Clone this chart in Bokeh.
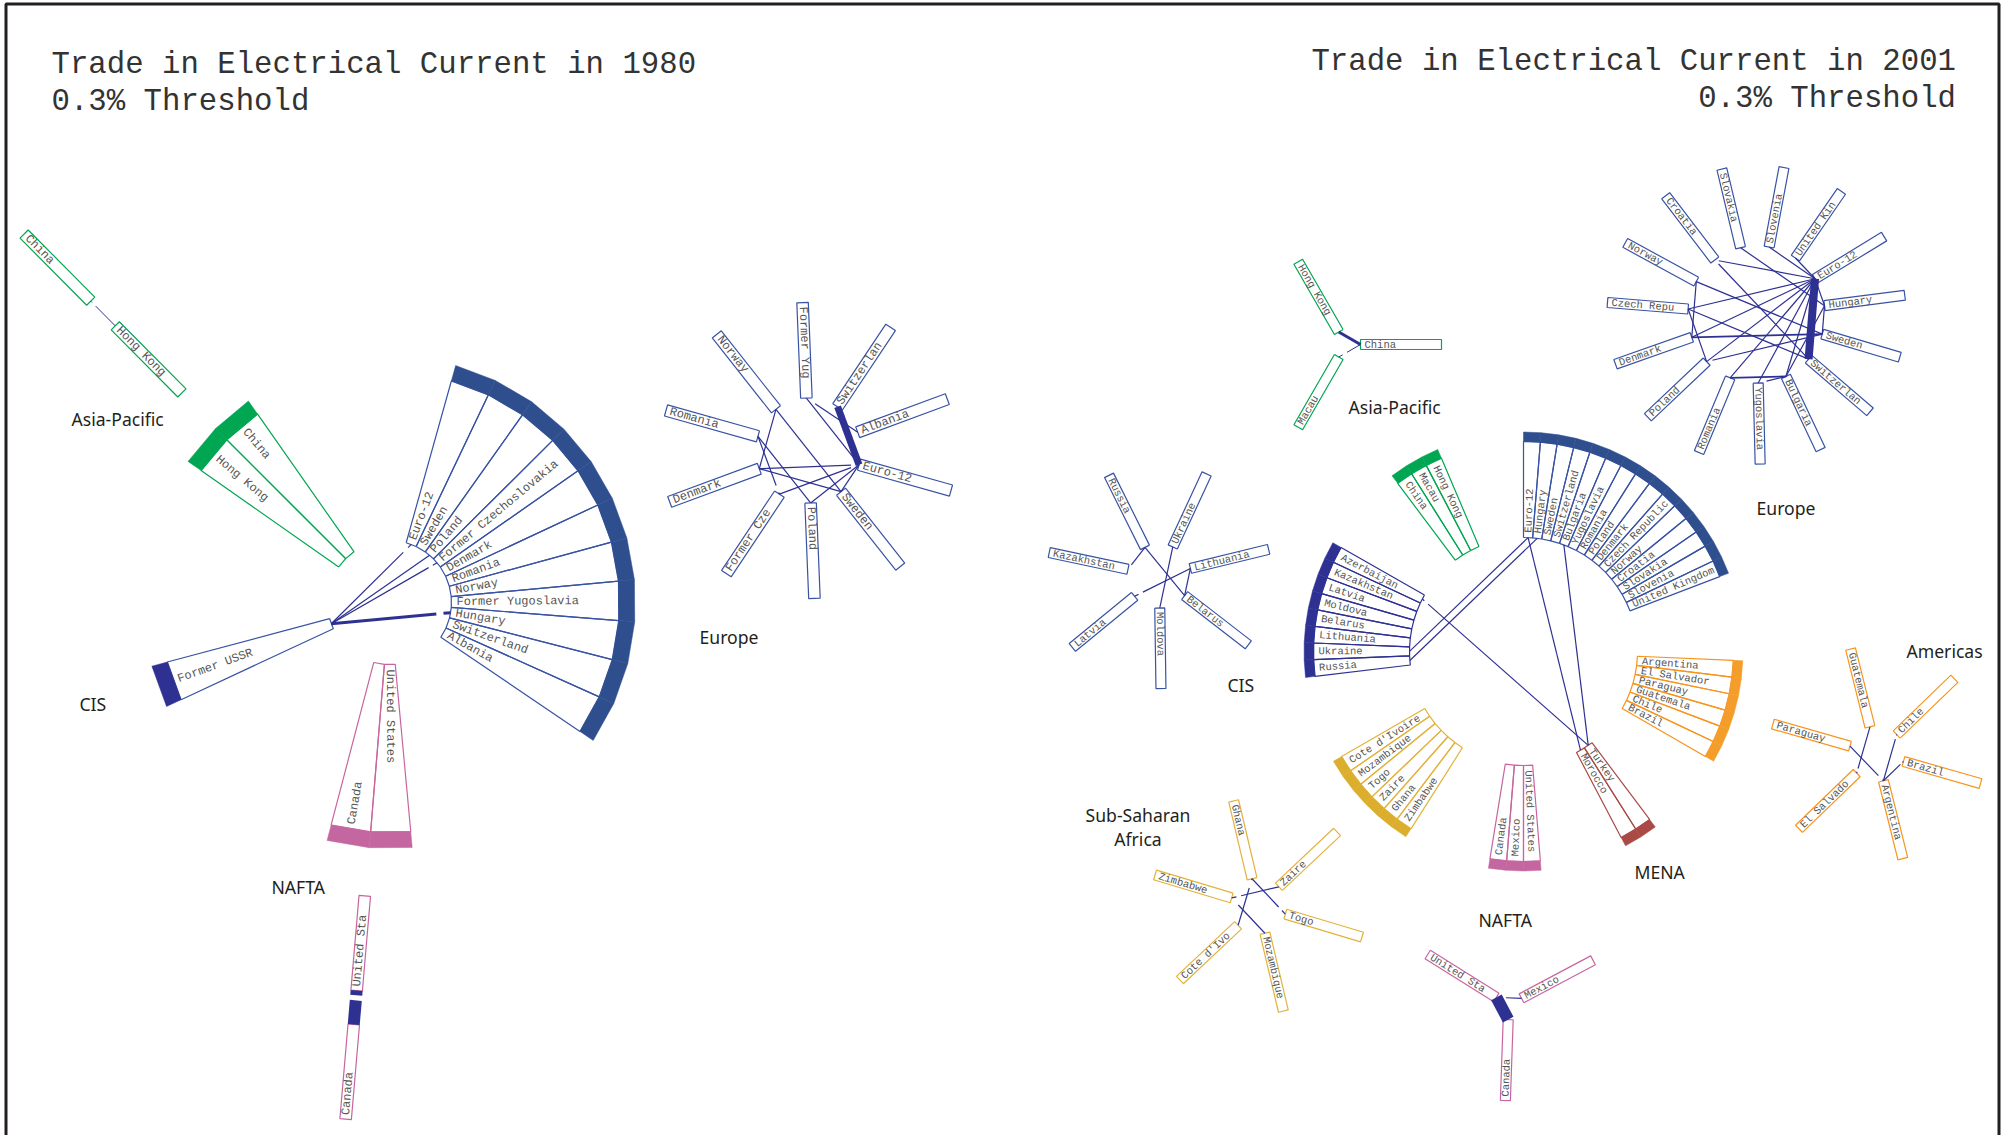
import numpy as np
from bokeh.plotting import figure
from bokeh.models import ColumnDataSource
from bokeh.core.properties import value
from bokeh.embed import file_html
from bokeh.resources import INLINE

# ---------- data: countries per group ----------
eu80 = ["Euro-12", "Sweden", "Poland", "Former Czechoslovakia", "Denmark", "Romania", "Norway",
        "Former Yugoslavia", "Hungary", "Switzerland", "Albania"]
asia80 = ["Hong Kong", "China"]
cis80 = ["Former USSR"]
nafta80 = ["Canada", "United States"]

eu01 = ["Euro-12", "Hungary", "Sweden", "Switzerland", "Bulgaria", "Yugoslavia", "Romania", "Poland",
        "Denmark", "Czech Republic", "Norway", "Croatia", "Slovakia", "Slovenia", "United Kingdom"]
cis01 = ["Azerbaijan", "Kazakhstan", "Latvia", "Moldova", "Belarus", "Lithuania", "Ukraine", "Russia"]
asia01 = ["China", "Macau", "Hong Kong"]
amer01 = ["Argentina", "El Salvador", "Paraguay", "Guatemala", "Chile", "Brazil"]
mena01 = ["Turkey", "Morocco"]
nafta01 = ["Canada", "Mexico", "United States"]
ssa01 = ["Cote d'Ivoire", "Mozambique", "Togo", "Zaire", "Ghana", "Zimbabwe"]

# spokes, counter-clockwise
star_eu80 = ["Euro-12", "Albania", "Switzerland", "Former Yugoslavia", "Norway", "Romania", "Denmark",
             "Former Czechoslovakia", "Poland", "Sweden"]
star_asia80 = ["China", "Hong Kong"]
star_nafta80 = ["United States", "Canada"]
star_eu01 = ["Euro-12", "United Kingdom", "Slovenia", "Slovakia", "Croatia", "Norway", "Czech Republic",
             "Denmark", "Poland", "Romania", "Yugoslavia", "Bulgaria", "Switzerland", "Sweden", "Hungary"]
star_cis01 = ["Lithuania", "Ukraine", "Russia", "Kazakhstan", "Latvia", "Moldova", "Belarus"]
star_asia01 = ["China", "Hong Kong", "Macau"]
star_ssa01 = ["Zaire", "Ghana", "Zimbabwe", "Cote d'Ivoire", "Mozambique", "Togo"]
star_amer01 = ["Chile", "Guatemala", "Paraguay", "El Salvador", "Argentina", "Brazil"]
star_nafta01 = ["Mexico", "United States", "Canada"]

# links: (from, to, weight[, gap start, gap end])
links_eu80 = [("Euro-12", "Switzerland", 7), ("Euro-12", "Former Yugoslavia", 1.2),
              ("Albania", "Former Yugoslavia", 1.2, .83, 1), ("Norway", "Denmark", 1.2),
              ("Norway", "Sweden", 1.2), ("Romania", "Poland", 1.2),
              ("Romania", "Former Czechoslovakia", 1.2, .85, .97), ("Denmark", "Euro-12", 1.2, .92, 1),
              ("Denmark", "Sweden", 1.2), ("Former Czechoslovakia", "Euro-12", 1.2, .9, 1),
              ("Poland", "Euro-12", 1.2), ("Sweden", "Euro-12", 1.2)]
links_asia80 = [("China", "Hong Kong", 1, .05, .2)]
links_nafta80 = [("United States", "Canada", 12, .14, .29)]
links_fan80 = [("Former USSR", "Euro-12", 1.2, .9, .96), ("Former USSR", "Poland", 1.2),
               ("Former USSR", "Former Czechoslovakia", 1.2, .92, .96),
               ("Former USSR", "Hungary", 3, .88, .94)]
links_eu01 = [("Euro-12", "Switzerland", 8), ("Euro-12", "Hungary", 1.2), ("Hungary", "Sweden", 1.2),
              ("Croatia", "Euro-12", 1.2, 0, .04), ("Croatia", "Switzerland", 1.2, 0, .04),
              ("Slovakia", "Hungary", 1.2), ("Slovenia", "Euro-12", 1.2), ("United Kingdom", "Euro-12", 1.2),
              ("Norway", "Sweden", 1.2), ("Norway", "Denmark", 1.2), ("Czech Republic", "Poland", 1.2),
              ("Czech Republic", "Euro-12", 1.2), ("Czech Republic", "Switzerland", 1.2),
              ("Denmark", "Euro-12", 1.2), ("Denmark", "Sweden", 1.8), ("Poland", "Euro-12", 1.2),
              ("Poland", "Sweden", 1.2, 0, .05), ("Romania", "Euro-12", 1.2), ("Romania", "Bulgaria", 1.8),
              ("Yugoslavia", "Euro-12", 1.2), ("Yugoslavia", "Bulgaria", 1.2, 0, .3),
              ("Bulgaria", "Euro-12", 1.2), ("Bulgaria", "Hungary", 1.2)]
links_cis01 = [("Russia", "Belarus", 1.2), ("Ukraine", "Moldova", 1.2), ("Lithuania", "Latvia", 1.2, .85, .93),
               ("Lithuania", "Belarus", 1.2), ("Kazakhstan", "Russia", 1.2, 0, .2)]
links_asia01 = [("China", "Hong Kong", 3), ("China", "Macau", 1, .62, .82)]
links_ssa01 = [("Ghana", "Togo", 1.2, .8, .9), ("Zaire", "Zimbabwe", 1.2, .8, .9),
               ("Ghana", "Cote d'Ivoire", 1.2, .03, .2), ("Zimbabwe", "Mozambique", 1.2, 0, .2)]
links_amer01 = [("Paraguay", "Argentina", 1.2, .85, .97), ("Guatemala", "El Salvador", 1.2, .9, .97),
                ("Chile", "Argentina", 1.2, .02, .1), ("Brazil", "Argentina", 1.2, .05, .15)]
links_nafta01 = [("United States", "Canada", 12), ("Mexico", "United States", 1.2, .62, 1)]
links_fan01 = [("Euro-12", "Ukraine", 1.2), ("Hungary", "Russia", 1.2), ("Azerbaijan", "Turkey", 1.2, .012, .035),
               ("Euro-12", "Morocco", 1.2), ("Bulgaria", "Turkey", 1.2)]

title_80 = ["Trade in Electrical Current in 1980", "0.3% Threshold"]
title_01 = ["Trade in Electrical Current in 2001", "0.3% Threshold"]

# ---------- styles and layout ----------
BLUE = "#2E3192"; EU_LINE = "#3953A4"; EU_BAND = "#2F4E8E"
GREEN = "#00A651"; MAG_LINE = "#C8659F"; MAG_BAND = "#C4669F"
ORANGE = "#F7941D"; ORANGE_BAND = "#F49D2A"; GOLD = "#E3B23C"; GOLD_BAND = "#DCAE2E"
RED = "#A94A46"; TXT = "#555555"; MONO = "Liberation Mono"; SANS = "Noto Sans"

p = figure(width=2005, height=1135, x_range=(0, 2005), y_range=(1135, 0), x_axis_type=None,
           y_axis_type=None, toolbar_location=None, output_backend="svg", min_border=0,
           outline_line_color=None, background_fill_color="white",
           styles={"position": "absolute", "left": "0px", "top": "0px"})
p.grid.visible = False


def pol(cx, cy, r, deg):
    t = np.radians(deg)
    return cx + r * np.cos(t), cy - r * np.sin(t)


def label(x, y, s, deg, size):
    return dict(x=x, y=y, text=s, angle=deg, size=size)


labels = []


def place_label(c, r0, r1, deg, s, size, off):
    if np.cos(np.radians(deg)) >= 0:
        x, y = pol(c[0], c[1], r0 + off, deg)
        labels.append(label(x, y, s, deg, size))
    else:
        x, y = pol(c[0], c[1], r1 - off, deg)
        labels.append(label(x, y, s, deg + 180, size))


def draw_links(links, node, color=BLUE):
    for l in links:
        a, b, w, *g = l
        ax, ay = node[a]; bx, by = node[b]
        spans = [(0, 1)] if not g else [(0, g[0]), (g[1], 1)]
        for t0, t1 in spans:
            if t1 - t0 <= 0:
                continue
            p.line([ax + (bx - ax) * t0, ax + (bx - ax) * t1], [ay + (by - ay) * t0, ay + (by - ay) * t1],
                   line_color=color, line_width=w)


def fan(c, r0, r1, th, start, end, names, line, band, size):
    edges = np.linspace(start, end, len(names) + 1)
    node = {}
    xs, ys, bx, by = [], [], [], []
    for i, s in enumerate(names):
        a0, a1 = edges[i], edges[i + 1]
        pts = [pol(c[0], c[1], r0, a0), pol(c[0], c[1], r0, a1), pol(c[0], c[1], r1, a1), pol(c[0], c[1], r1, a0)]
        pts.append(pts[0])
        xs.append([q[0] for q in pts]); ys.append([q[1] for q in pts])
        bp = [pol(c[0], c[1], r1, a0), pol(c[0], c[1], r1, a1), pol(c[0], c[1], r1 + th, a1), pol(c[0], c[1], r1 + th, a0)]
        bx.append([q[0] for q in bp]); by.append([q[1] for q in bp])
        mid = (a0 + a1) / 2
        node[s] = pol(c[0], c[1], r0, mid)
        place_label(c, r0, r1, mid, s, size, 5)
    p.multi_line(xs, ys, line_color=line, line_width=1.2)
    p.patches(bx, by, fill_color=band, line_color=band, line_width=0.5)
    return node


def star(c, r0, r1, first, names, links, line, width, size):
    node = {}
    xs, ys = [], []
    for i, s in enumerate(names):
        d = first + i * 360.0 / len(names)
        ax, ay = pol(c[0], c[1], r0, d)
        bx, by = pol(c[0], c[1], r1, d)
        nx, ny = np.sin(np.radians(d)) * width / 2, np.cos(np.radians(d)) * width / 2
        xs.append([ax + nx, bx + nx, bx - nx, ax - nx, ax + nx])
        ys.append([ay + ny, by + ny, by - ny, ay - ny, ay + ny])
        node[s] = (ax, ay)
        place_label(c, r0, r1, d, s[:10], size, 4)
    p.multi_line(xs, ys, line_color=line, line_width=1.2)
    draw_links(links, node)


# ---------- 1980 ----------
C80 = (389, 602)
n80 = {}
for start, end, names, line, band in [(74.4, -34.1, eu80, EU_LINE, EU_BAND), (145, 125, asia80, GREEN, GREEN),
                                      (195, 205, cis80, EU_LINE, BLUE), (255.3, 275.3, nafta80, MAG_LINE, MAG_BAND)]:
    n80.update(fan(C80, 62, 230, 16, start, end, names, line, band, 12))
draw_links(links_fan80, n80)
star((808, 450), 52.5, 148, -15.7, star_eu80, links_eu80, EU_LINE, 11.5, 12)
star((102.5, 313), 17.4, 112, 134.8, star_asia80, links_asia80, GREEN, 11.5, 12)
star((354.7, 1007), 17, 112, 85.1, star_nafta80, links_nafta80, MAG_LINE, 11.5, 12)

# ---------- 2001 ----------
C01 = (1523, 651)
n01 = {}
for start, end, names, line, band in [(90, 20.9, eu01, EU_LINE, EU_BAND), (150.3, 186.8, cis01, BLUE, BLUE),
                                      (126.8, 113, asia01, GREEN, GREEN), (-2.4, -30, amer01, ORANGE, ORANGE_BAND),
                                      (-53.1, -62.3, mena01, RED, RED), (-99.2, -85.4, nafta01, MAG_LINE, MAG_BAND),
                                      (210, 237.6, ssa01, GOLD, GOLD_BAND)]:
    n01.update(fan(C01, 114, 210, 9.5, start, end, names, line, band, 10.5))
draw_links(links_fan01, n01)
star((1756, 314), 68.6, 149.5, 31.4, star_eu01, links_eu01, EU_LINE, 10, 10.5)
star((1158.8, 575.5), 32, 112.5, 13.7, star_cis01, links_cis01, EU_LINE, 10, 10.5)
star((1345.5, 344), 14.5, 95.5, 0, star_asia01, links_asia01, GREEN, 10, 10.5)
star((1258, 905.5), 28, 108, 43.3, star_ssa01, links_ssa01, GOLD, 10, 10.5)
star((1876.2, 753.3), 27.8, 108, 44, star_amer01, links_amer01, ORANGE, 10, 10.5)
star((1508.2, 1004.6), 14.5, 95.5, 28, star_nafta01, links_nafta01, MAG_LINE, 10, 10.5)

# ---------- texts ----------
for size in sorted({l["size"] for l in labels}):
    sel = [l for l in labels if l["size"] == size]
    src = ColumnDataSource(dict(x=[l["x"] for l in sel], y=[l["y"] for l in sel], text=[l["text"] for l in sel],
                                angle=[l["angle"] for l in sel]))
    p.text("x", "y", text="text", angle="angle", angle_units="deg", source=src, text_font=value(MONO),
           text_font_size=f"{size}px", text_color=TXT, text_align="left", text_baseline="middle")

group_x = [71, 79, 699, 271, 1348, 1227, 1756, 1478, 1634, 1906]
group_y = [418.5, 703.5, 636, 886.5, 406, 684, 507, 919, 871.5, 650]
group_t = ["Asia-Pacific", "CIS", "Europe", "NAFTA", "Asia-Pacific", "CIS", "Europe", "NAFTA", "MENA", "Americas"]
p.text(group_x, group_y, text=group_t, text_font=value(SANS), text_font_size="17.6px", text_color="#231F20",
       text_align="left", text_baseline="middle")
p.text([1137.5, 1137.5], [814, 838], text=["Sub-Saharan", "Africa"], text_font=value(SANS), text_font_size="17.6px",
       text_color="#231F20", text_align="center", text_baseline="middle")
p.text([51, 51], [64, 101], text=title_80, text_font=value(MONO), text_font_size="30.7px", text_color="#333333",
       text_align="left", text_baseline="middle")
p.text([1955.5, 1955.5], [61, 98], text=title_01, text_font=value(MONO), text_font_size="30.7px", text_color="#333333",
       text_align="right", text_baseline="middle")

# frame
p.line([5.5, 5.5, 1998.5, 1998.5], [1135, 3.5, 3.5, 1135], line_color="#231F20", line_width=3)

open("out.html", "w").write(file_html(p, INLINE))
